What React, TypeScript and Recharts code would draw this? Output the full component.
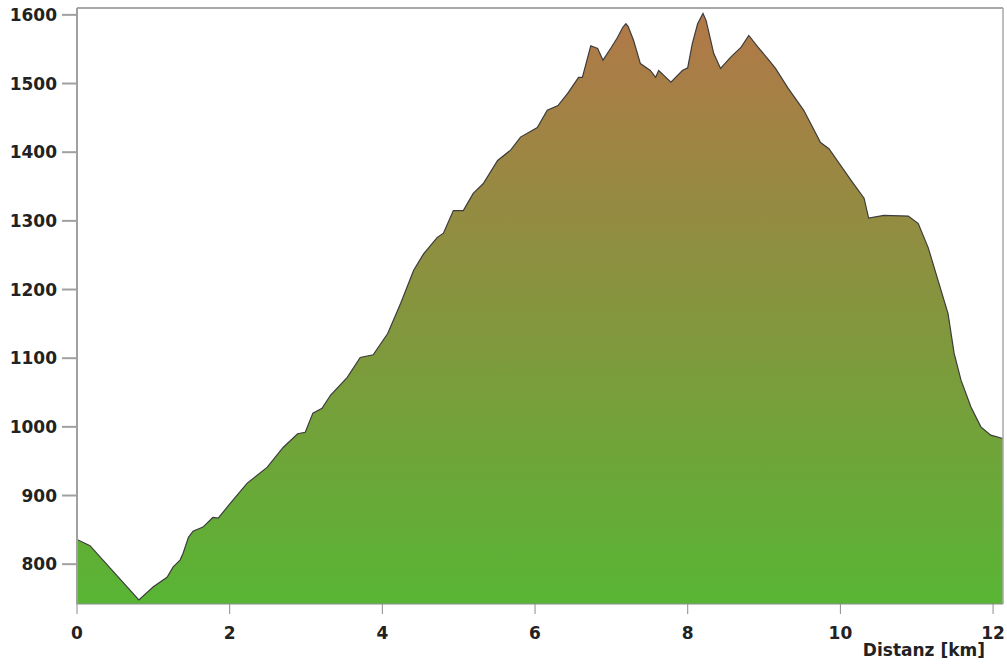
import React from "react"
import { Area, AreaChart, XAxis, YAxis, ReferenceLine } from "recharts"

// distance along the route (km) and elevation (m), read from the profile
const distance = [
    0, 0.17, 0.81, 1.0, 1.18, 1.26, 1.35, 1.39, 1.46, 1.52, 1.65, 1.78, 1.85, 2.01, 2.23,
    2.49, 2.7, 2.89, 2.99, 3.09, 3.21, 3.32, 3.54, 3.71, 3.88, 4.07, 4.24, 4.41, 4.54,
    4.72, 4.8, 4.93, 5.06, 5.19, 5.32, 5.51, 5.68, 5.81, 6.03, 6.16, 6.3, 6.43, 6.57,
    6.62, 6.73, 6.82, 6.89, 6.99, 7.08, 7.15, 7.19, 7.22, 7.29, 7.38, 7.51, 7.58, 7.62,
    7.78, 7.93, 8.0, 8.06, 8.13, 8.2, 8.24, 8.28, 8.34, 8.43, 8.56, 8.7, 8.8, 8.92, 9.05,
    9.15, 9.31, 9.52, 9.74, 9.85, 10.14, 10.31, 10.37, 10.57, 10.89, 11.02, 11.15, 11.28,
    11.41, 11.49, 11.58, 11.71, 11.84, 11.97, 12.13,
]
const elevation = [
    836, 827, 748, 767, 781, 796, 806, 816, 839, 848, 854, 868, 867, 889, 918,
    941, 970, 990, 992, 1020, 1027, 1046, 1072, 1101, 1105, 1136, 1180, 1228, 1252,
    1276, 1282, 1315, 1315, 1340, 1354, 1388, 1403, 1422, 1436, 1461, 1468, 1486, 1509,
    1509, 1555, 1551, 1534, 1551, 1567, 1582, 1587, 1583, 1563, 1529, 1519, 1509, 1519,
    1502, 1519, 1523, 1558, 1587, 1602, 1592, 1573, 1544, 1522, 1538, 1553, 1570, 1553, 1536,
    1522, 1494, 1461, 1414, 1405, 1359, 1333, 1304, 1308, 1307, 1296, 1261, 1213,
    1165, 1107, 1068, 1029, 1000, 988, 983,
]
const xTicks = [0, 2, 4, 6, 8, 10, 12]
const yTicks = [800, 900, 1000, 1100, 1200, 1300, 1400, 1500, 1600]

const data = distance.map((km, i) => ({ km, ele: elevation[i] }))

const font = "DejaVu Sans, Verdana, sans-serif"

const AxisTitle = ({ viewBox }: any) => (
    <text
        x={viewBox.x + viewBox.width - 18}
        y={viewBox.y + 52}
        textAnchor="end"
        fontFamily={font}
        fontWeight="bold"
        fontSize={17}
        fill="#222"
    >
        Distanz [km]
    </text>
)

export default function App() {
    return (
        <div style={{ position: "absolute", left: 0, top: 0, background: "#fff" }}>
            <AreaChart
                width={1007}
                height={665}
                data={data}
                margin={{ top: 8, right: 4, bottom: 0, left: 0 }}
            >
                <defs>
                    <linearGradient id="eleFill" x1="0" y1="0" x2="0" y2="1">
                        <stop offset="0%" stopColor="#b27848" />
                        <stop offset="50%" stopColor="#85953e" />
                        <stop offset="100%" stopColor="#58b534" />
                    </linearGradient>
                </defs>
                <XAxis
                    dataKey="km"
                    type="number"
                    domain={[0, 12.13]}
                    ticks={xTicks}
                    allowDataOverflow
                    height={61}
                    stroke="#8c8c8c"
                    tickSize={10}
                    tickMargin={13}
                    tick={{ fill: "#222", fontSize: 17, fontWeight: "bold", fontFamily: font }}
                    label={<AxisTitle />}
                />
                <YAxis
                    type="number"
                    domain={[742, 1610]}
                    ticks={yTicks}
                    allowDataOverflow
                    width={77}
                    stroke="#a0a0a0"
                    strokeWidth={2}
                    tickSize={15}
                    tickMargin={5}
                    tick={{ fill: "#222", fontSize: 17, fontWeight: "bold", fontFamily: font }}
                />
                <ReferenceLine y={1610} stroke="#a8a8a8" strokeWidth={2} />
                <ReferenceLine x={12.13} stroke="#a8a8a8" strokeWidth={1.5} />
                <Area
                    type="linear"
                    dataKey="ele"
                    stroke="#3c3c3c"
                    strokeWidth={1.2}
                    fill="url(#eleFill)"
                    fillOpacity={1}
                    isAnimationActive={false}
                    dot={false}
                    activeDot={false}
                />
            </AreaChart>
        </div>
    )
}
